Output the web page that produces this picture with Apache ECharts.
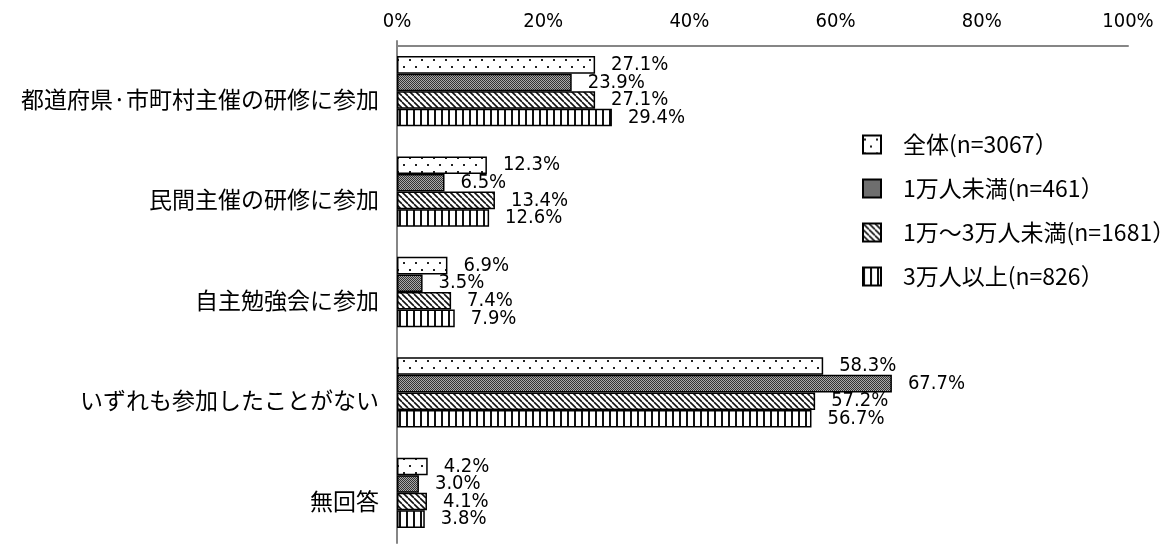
<!DOCTYPE html>
<html>
<head>
<meta charset="utf-8">
<script src="https://cdn.jsdelivr.net/npm/echarts@6/dist/echarts.min.js"></script>
<style>
  html, body { margin: 0; padding: 0; background: #fff; }
  #chart { width: 1173px; height: 544px; }
</style>
</head>
<body>
<div id="chart"></div>
<script>
// Survey: participation in training (by municipality size)
const categories = [
  '都道府県·市町村主催の研修に参加',
  '民間主催の研修に参加',
  '自主勉強会に参加',
  'いずれも参加したことがない',
  '無回答'
];
const seriesNames = ['全体(n=3067）', '1万人未満(n=461）', '1万～3万人未満(n=1681）', '3万人以上(n=826）'];
const allRespondents = [27.1, 12.3, 6.9, 58.3, 4.2];
const under10k = [23.9, 6.5, 3.5, 67.7, 3.0];
const from10kTo30k = [27.1, 13.4, 7.4, 57.2, 4.1];
const over30k = [29.4, 12.6, 7.9, 56.7, 3.8];
const xTicks = [0, 20, 40, 60, 80, 100];

const numFont = "'Liberation Sans Narrow', 'DejaVu Sans Condensed', 'Liberation Sans', sans-serif";
const jpFont = "'Noto Sans CJK JP', sans-serif";

// Monochrome fill patterns drawn on small canvases
function tile(w, h, draw) {
  const c = document.createElement('canvas');
  c.width = w; c.height = h;
  const g = c.getContext('2d');
  g.fillStyle = '#fff';
  g.fillRect(0, 0, w, h);
  draw(g, w, h);
  return c;
}
const dotTile = tile(12, 14, (g) => {
  g.fillStyle = '#222';
  g.fillRect(1, 3, 2, 2);
  g.fillRect(7, 10, 2, 2);
});
const ditherTile = tile(2, 2, (g) => {
  g.fillStyle = '#333';
  g.fillRect(0, 0, 1, 1);
  g.fillRect(1, 1, 1, 1);
  g.fillStyle = '#aaa';
  g.fillRect(1, 0, 1, 1);
  g.fillRect(0, 1, 1, 1);
});
const diagTile = tile(6, 6, (g, w, h) => {
  g.strokeStyle = '#111';
  g.lineWidth = 1.6;
  for (let k = -1; k <= 1; k++) {
    g.beginPath();
    g.moveTo(k * w, 0);
    g.lineTo(k * w + w, h);
    g.stroke();
  }
});
const vlineTile = tile(7, 4, (g) => {
  g.fillStyle = '#111';
  g.fillRect(0, 0, 2, 4);
});

const fills = [dotTile, ditherTile, diagTile, vlineTile];
const values = [allRespondents, under10k, from10kTo30k, over30k];

const chart = echarts.init(document.getElementById('chart'), null, { renderer: 'canvas' });

const series = values.map((data, i) => ({
  name: seriesNames[i],
  type: 'bar',
  data: data,
  barGap: '0%',
  barCategoryGap: '30%',
  itemStyle: {
    color: { image: fills[i], repeat: 'repeat' },
    borderColor: '#000',
    borderWidth: 1.5
  },
  label: {
    show: true,
    position: 'right',
    distance: 16,
    color: '#000',
    fontFamily: numFont,
    fontSize: 20,
    formatter: (p) => p.value.toFixed(1) + '%'
  }
}));

chart.setOption({
  animation: false,
  backgroundColor: '#fff',
  grid: { left: 397, right: 45, top: 41, bottom: 1, containLabel: false },
  legend: {
    orient: 'vertical',
    left: 862,
    top: 133,
    padding: 0,
    icon: 'rect',
    itemWidth: 18,
    itemHeight: 18,
    itemGap: 21,
    textStyle: {
      fontFamily: jpFont,
      fontSize: 23,
      lineHeight: 22,
      color: '#000',
      padding: [0, 0, 0, 17]
    },
    data: seriesNames
  },
  xAxis: {
    type: 'value',
    position: 'top',
    offset: -5,
    min: 0,
    max: 100,
    interval: 20,
    axisLine: { show: true, lineStyle: { color: '#868686', width: 2 } },
    axisTick: { show: false },
    splitLine: { show: false },
    axisLabel: {
      margin: 14,
      color: '#000',
      fontFamily: numFont,
      fontSize: 20,
      customValues: xTicks,
      formatter: '{value}%'
    }
  },
  yAxis: {
    type: 'category',
    inverse: true,
    data: categories,
    axisLine: { show: true, lineStyle: { color: '#868686', width: 2 } },
    axisTick: { show: false },
    axisLabel: {
      margin: 18,
      color: '#000',
      fontFamily: jpFont,
      fontSize: 23,
      verticalAlign: 'top',
      lineHeight: 16
    }
  },
  series: series
});
</script>
</body>
</html>
